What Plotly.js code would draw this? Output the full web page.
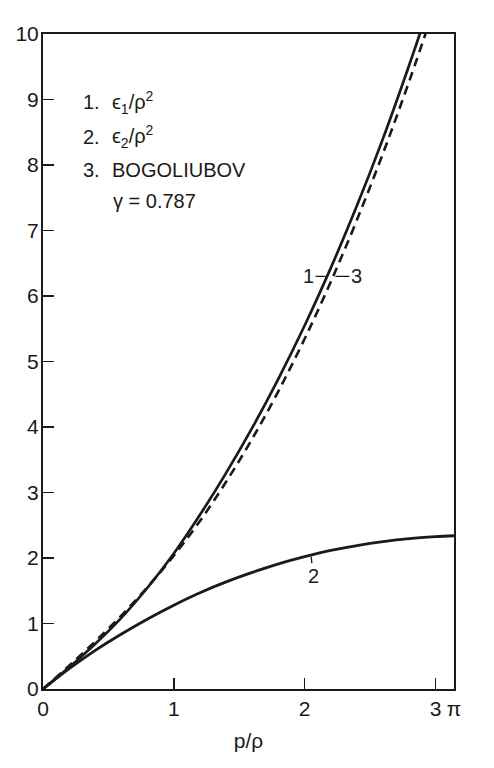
<!DOCTYPE html>
<html>
<head>
<meta charset="utf-8">
<script src="https://cdn.plot.ly/plotly-3.0.1.min.js"></script>
<style>html,body{margin:0;padding:0;background:#fff;}#chart{width:494px;height:768px;}</style>
</head>
<body>
<div id="chart"></div>
<script>
// p/rho values
const p1 = [0, 0.2, 0.4, 0.6, 0.8, 1.0, 1.2, 1.4, 1.6, 1.8, 2.0, 2.2, 2.4, 2.6, 2.8, 2.95];
// curve 1: eps1/rho^2
const eps1 = [0, 0.33, 0.69, 1.09, 1.55, 2.07, 2.66, 3.30, 3.99, 4.74, 5.55, 6.43, 7.38, 8.41, 9.53, 10.42];
const p2 = [0, 0.2, 0.4, 0.6, 0.8, 1.0, 1.2, 1.4, 1.6, 1.8, 2.0, 2.2, 2.4, 2.6, 2.8, 3.0, 3.1416];
// curve 2: eps2/rho^2
const eps2 = [0, 0.31, 0.59, 0.84, 1.07, 1.28, 1.47, 1.635, 1.78, 1.91, 2.02, 2.115, 2.19, 2.25, 2.295, 2.325, 2.34];
const p3 = [0, 0.2, 0.4, 0.6, 0.8, 1.0, 1.2, 1.4, 1.6, 1.8, 2.0, 2.2, 2.4, 2.6, 2.8, 3.0];
// curve 3: Bogoliubov
const bog = [0, 0.357, 0.728, 1.124, 1.557, 2.037, 2.566, 3.164, 3.823, 4.549, 5.347, 6.218, 7.163, 8.184, 9.282, 10.456];
const xTickVals = [0, 1, 2, 3, 3.14159];
const xTickText = ['0', '1', '2', '3', 'π'];
const yTickVals = [0, 1, 2, 3, 4, 5, 6, 7, 8, 9, 10];

const ink = '#1a1a1a';
const fnt = 'Liberation Sans, Arial, sans-serif';

const traces = [
  {x: p1, y: eps1, mode: 'lines', line: {color: ink, width: 2.7, shape: 'spline', smoothing: 1}, showlegend: false},
  {x: p2, y: eps2, mode: 'lines', line: {color: ink, width: 2.8, shape: 'spline', smoothing: 1}, showlegend: false},
  {x: p3, y: bog, mode: 'lines', line: {color: ink, width: 2.6, shape: 'spline', dash: '9px,6px'}, showlegend: false}
];

const ann = (x, y, text, opts) => Object.assign({x: x, y: y, xref: 'x', yref: 'y', text: text, showarrow: false,
  xanchor: 'left', yanchor: 'middle', font: {family: fnt, size: 20, color: ink}}, opts || {});

const layout = {
  width: 494, height: 768,
  margin: {l: 43, r: 40, t: 34, b: 79},
  paper_bgcolor: '#fff', plot_bgcolor: '#fff',
  xaxis: {
    range: [0, 3.14159], tickvals: xTickVals, ticktext: xTickText,
    ticks: 'inside', ticklen: 11, tickwidth: 1.5, tickcolor: ink,
    showline: true, linecolor: ink, linewidth: 1.8, mirror: true,
    showgrid: false, zeroline: false,
    tickfont: {family: fnt, size: 21, color: ink},
    title: {text: 'p/ρ', font: {family: fnt, size: 21, color: ink}, standoff: 14}
  },
  yaxis: {
    range: [0, 10], tickvals: yTickVals,
    ticks: 'inside', ticklen: 11, tickwidth: 1.5, tickcolor: ink,
    showline: true, linecolor: ink, linewidth: 2, mirror: true,
    showgrid: false, zeroline: false, ticklabelstandoff: -2,
    tickfont: {family: fnt, size: 21, color: ink}
  },
  annotations: [
    ann(0.29, 8.96, '1.'),
    ann(0.51, 8.96, 'ϵ<sub>1</sub>/ρ<sup>2</sup>'),
    ann(0.29, 8.43, '2.'),
    ann(0.51, 8.43, 'ϵ<sub>2</sub>/ρ<sup>2</sup>'),
    ann(0.29, 7.92, '3.'),
    ann(0.51, 7.92, 'BOGOLIUBOV'),
    ann(0.52, 7.45, 'γ = 0.787'),
    {x: 2.16, y: 6.3, xref: 'x', yref: 'y', text: '1', showarrow: true, arrowhead: 0, arrowwidth: 1.3,
      arrowcolor: ink, ax: -17, ay: 0, font: {family: fnt, size: 20, color: ink}},
    {x: 2.235, y: 6.3, xref: 'x', yref: 'y', text: '3', showarrow: true, arrowhead: 0, arrowwidth: 1.3,
      arrowcolor: ink, ax: 21, ay: 0, font: {family: fnt, size: 20, color: ink}},
    {x: 2.05, y: 2.02, xref: 'x', yref: 'y', text: '2', showarrow: true, arrowhead: 0, arrowwidth: 1.3,
      arrowcolor: ink, ax: 2, ay: 19, font: {family: fnt, size: 20, color: ink}}
  ]
};

Plotly.newPlot('chart', traces, layout, {displayModeBar: false, staticPlot: true});
</script>
</body>
</html>
